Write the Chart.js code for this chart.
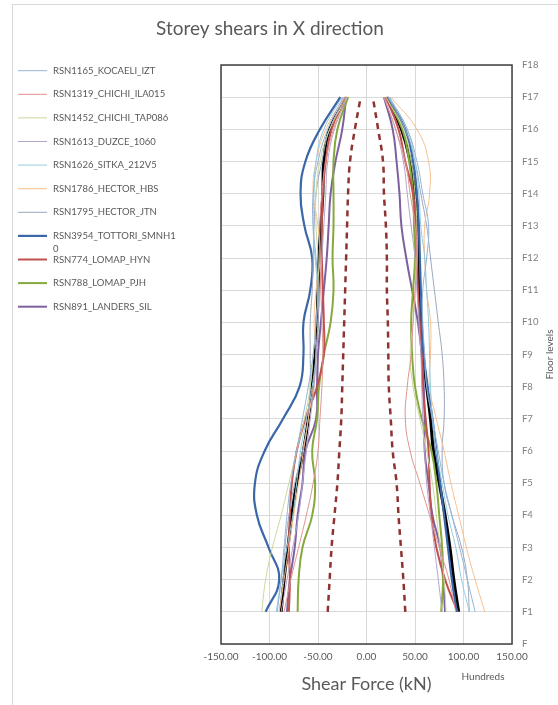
<!DOCTYPE html>
<html>
<head>
<meta charset="utf-8">
<title>Storey shears in X direction</title>
<script src="https://cdn.jsdelivr.net/npm/chart.js@4.4.1/dist/chart.umd.min.js"></script>
<style>
  html, body { margin: 0; padding: 0; background: #fff; }
  #wrap { position: relative; width: 558px; height: 705px; }
</style>
</head>
<body>
<div id="wrap"><canvas id="shearChart"></canvas></div>
<script>
  // Floors F1..F17 (values listed bottom to top), shear in hundreds of kN
  const floors = [1, 2, 3, 4, 5, 6, 7, 8, 9, 10, 11, 12, 13, 14, 15, 16, 17];
  const floorLabels = ['F', 'F1', 'F2', 'F3', 'F4', 'F5', 'F6', 'F7', 'F8', 'F9',
    'F10', 'F11', 'F12', 'F13', 'F14', 'F15', 'F16', 'F17', 'F18'];
  const shearTicks = [-150, -100, -50, 0, 50, 100, 150];

  const seriesNames = [
    'RSN1165_KOCAELI_IZT', 'RSN1319_CHICHI_ILA015', 'RSN1452_CHICHI_TAP086',
    'RSN1613_DUZCE_1060', 'RSN1626_SITKA_212V5', 'RSN1786_HECTOR_HBS',
    'RSN1795_HECTOR_JTN', 'RSN3954_TOTTORI_SMNH10', 'RSN774_LOMAP_HYN',
    'RSN788_LOMAP_PJH', 'RSN891_LANDERS_SIL'
  ];

  const kocaeliPos = [112, 104, 96, 88, 80, 74, 68, 62, 60, 58, 58, 62, 64, 58, 52, 42, 24];
  const kocaeliNeg = [-92, -88, -85, -82, -78, -72, -66, -60, -55, -52, -50, -52, -55, -55, -50, -40, -24];
  const chichiIlaPos = [92, 85, 75, 65, 55, 45, 40, 42, 46, 48, 50, 52, 50, 45, 40, 30, 18];
  const chichiIlaNeg = [-85, -78, -70, -62, -55, -50, -48, -46, -45, -46, -47, -48, -48, -46, -42, -34, -21];
  const chichiTapPos = [82, 80, 76, 72, 68, 62, 55, 48, 45, 48, 50, 52, 52, 50, 46, 38, 20];
  const chichiTapNeg = [-108, -104, -97, -88, -80, -72, -64, -58, -55, -52, -50, -50, -52, -52, -48, -38, -20];
  const duzcePos = [78, 74, 70, 66, 62, 60, 58, 57, 56, 54, 52, 50, 46, 42, 38, 30, 18];
  const duzceNeg = [-88, -82, -76, -70, -66, -62, -58, -54, -52, -50, -48, -46, -44, -42, -40, -33, -20];
  const sitkaPos = [106, 98, 92, 84, 78, 72, 68, 66, 65, 64, 62, 60, 56, 54, 50, 42, 23];
  const sitkaNeg = [-93, -88, -82, -76, -72, -68, -62, -56, -52, -50, -50, -53, -55, -54, -52, -44, -25];
  const hectorHbsPos = [122, 112, 103, 95, 87, 80, 72, 65, 66, 66, 62, 60, 60, 65, 64, 52, 25];
  const hectorHbsNeg = [-90, -85, -80, -75, -70, -65, -60, -55, -52, -54, -52, -48, -50, -55, -52, -42, -23];
  const hectorJtnPos = [106, 104, 98, 88, 80, 78, 80, 80, 78, 74, 70, 66, 62, 56, 50, 40, 22];
  const hectorJtnNeg = [-90, -86, -84, -80, -74, -66, -60, -58, -58, -58, -56, -55, -54, -52, -46, -38, -22];
  const tottoriPos = [93, 88, 84, 80, 76, 72, 68, 63, 59, 57, 56, 55, 54, 52, 48, 40, 22];
  const tottoriNeg = [-104, -90, -101, -113, -115, -105, -86, -69, -65, -65, -58, -56, -64, -68, -63, -48, -27];
  const lomapHynPos = [94, 81, 72, 67, 65, 64, 61, 58, 57, 55, 53, 52, 51, 48, 40, 33, 20];
  const lomapHynNeg = [-80, -79, -80, -79, -77, -72, -63, -51, -44, -44, -45, -46, -46, -45, -42, -36, -22];
  const lomapPjhPos = [77, 79, 78, 75, 72, 67, 57, 50, 47, 46, 48, 50, 49, 48, 44, 37, 20];
  const lomapPjhNeg = [-71, -70, -66, -56, -53, -56, -51, -49, -44, -37, -34, -35, -34, -34, -34, -30, -19];
  const landersPos = [81, 79, 76, 68, 64, 60, 60, 59, 57, 53, 47, 41, 36, 34, 31, 27, 18];
  const landersNeg = [-82, -79, -74, -71, -66, -63, -52, -51, -50, -47, -44, -41, -39, -37, -32, -25, -21];

  // mean of records (black) and design envelope (dashed)
  const meanPos = [95, 90, 86, 81, 75, 69, 66, 62, 58, 56, 54, 53, 52, 50, 45, 36, 21];
  const meanNeg = [-88, -85, -81, -77, -72, -65, -60, -56, -53, -51, -50, -49, -47, -45, -44, -38, -20];
  const designPos = [40, 38, 35.5, 33, 31, 27, 25, 23, 22.5, 22, 21, 21, 20, 18, 17, 12, 6.5];
  const designNeg = [-40, -38, -36, -33, -30, -28, -26, -25, -24, -23, -22, -21, -20, -19, -17, -12, -6];

  const posValues = [kocaeliPos, chichiIlaPos, chichiTapPos, duzcePos, sitkaPos, hectorHbsPos,
    hectorJtnPos, tottoriPos, lomapHynPos, lomapPjhPos, landersPos];
  const negValues = [kocaeliNeg, chichiIlaNeg, chichiTapNeg, duzceNeg, sitkaNeg, hectorHbsNeg,
    hectorJtnNeg, tottoriNeg, lomapHynNeg, lomapPjhNeg, landersNeg];

  const lineColors = ['#95b3d7', '#e0928f', '#c9d89c', '#b4a4c9', '#93cddd', '#f8bf8c',
    '#9aa7bf', '#3a67a8', '#c0504d', '#86a83c', '#7d60a0'];
  const lineWidths = [1, 1, 1, 1, 1, 1, 1, 2.2, 2, 2, 2];

  const textGray = '#595959';

  function toPoints(values) {
    return values.map((v, i) => ({ x: v, y: floors[i] }));
  }

  const datasets = [];
  seriesNames.forEach((name, i) => {
    [posValues[i], negValues[i]].forEach(values => {
      datasets.push({
        label: name,
        data: toPoints(values),
        borderColor: lineColors[i],
        borderWidth: lineWidths[i]
      });
    });
  });
  [meanPos, meanNeg].forEach(values => {
    datasets.push({ label: 'Mean', data: toPoints(values), borderColor: '#000000', borderWidth: 3 });
  });
  [designPos, designNeg].forEach(values => {
    datasets.push({ label: 'Design', data: toPoints(values), borderColor: '#8e3232',
      borderWidth: 2.5, borderDash: [6, 5] });
  });

  // Title, axis titles, frame and legend drawn straight on the canvas
  const decorations = {
    id: 'decorations',
    beforeDraw(chart) {
      const ctx = chart.ctx;
      ctx.save();
      ctx.strokeStyle = '#d9d9d9';
      ctx.lineWidth = 1;
      ctx.strokeRect(12.5, 4.5, 800, 900);
      ctx.restore();
    },
    afterDraw(chart) {
      const { ctx, chartArea } = chart;
      ctx.save();

      // plot area box
      ctx.strokeStyle = '#404040';
      ctx.lineWidth = 1.5;
      ctx.strokeRect(chartArea.left, chartArea.top, chartArea.right - chartArea.left,
        chartArea.bottom - chartArea.top);

      ctx.fillStyle = textGray;
      ctx.textAlign = 'center';
      ctx.textBaseline = 'middle';
      ctx.font = '19px Lato';
      ctx.fillText('Storey shears in X direction', 270, 29);

      ctx.font = '18px Lato';
      ctx.fillText('Shear Force (kN)', (chartArea.left + chartArea.right) / 2, 684);
      ctx.font = '10px Lato';
      ctx.fillText('Hundreds', 483, 677);

      ctx.save();
      ctx.translate(550, (chartArea.top + chartArea.bottom) / 2);
      ctx.rotate(-Math.PI / 2);
      ctx.font = '10px Lato';
      ctx.fillText('Floor levels', 0, 0);
      ctx.restore();

      // legend
      ctx.textAlign = 'left';
      ctx.font = '9.5px Lato';
      seriesNames.forEach((name, i) => {
        const y = 70.7 + i * 23.6;
        ctx.strokeStyle = lineColors[i];
        ctx.lineWidth = lineWidths[i];
        ctx.beginPath();
        ctx.moveTo(18, y);
        ctx.lineTo(47, y);
        ctx.stroke();
        const first = name.slice(0, 21);
        const rest = name.slice(21);
        ctx.fillText(first, 53, y);
        if (rest) ctx.fillText(rest, 53, y + 13);
      });

      ctx.restore();
    }
  };

  const ctx = document.getElementById('shearChart').getContext('2d');
  const shearChart = new Chart(ctx, {
    type: 'scatter',
    data: { datasets: datasets },
    options: {
      responsive: true,
      maintainAspectRatio: false,
      animation: false,
      showLine: true,
      layout: { padding: { left: 221, top: 65, right: 0, bottom: 0 } },
      elements: {
        point: { radius: 0, hoverRadius: 0 },
        line: { tension: 0.45, fill: false }
      },
      plugins: {
        legend: { display: false },
        tooltip: { enabled: false },
        title: { display: false }
      },
      scales: {
        x: {
          type: 'linear',
          min: shearTicks[0],
          max: shearTicks[shearTicks.length - 1],
          afterBuildTicks: scale => { scale.ticks = shearTicks.map(v => ({ value: v })); },
          afterFit: scale => { scale.height = 61; },
          grid: { color: '#d9d9d9', drawTicks: false },
          border: { display: false },
          ticks: {
            padding: 7,
            autoSkip: false,
            maxRotation: 0,
            color: textGray,
            font: { family: 'Lato', size: 10 },
            callback: v => v.toFixed(2)
          }
        },
        y: {
          type: 'linear',
          position: 'right',
          min: 0,
          max: floorLabels.length - 1,
          afterFit: scale => { scale.width = 46; },
          grid: { color: '#d9d9d9', drawTicks: false },
          border: { display: false },
          ticks: {
            stepSize: 1,
            padding: 10,
            autoSkip: false,
            color: '#7f7f7f',
            font: { family: 'Lato', size: 9.5 },
            callback: v => floorLabels[v]
          }
        }
      }
    },
    plugins: [decorations]
  });
</script>
</body>
</html>
